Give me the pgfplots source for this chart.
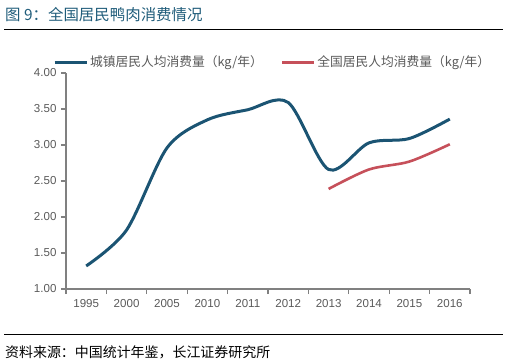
\documentclass[border=0pt]{standalone}
\usepackage{pgfplots}
\pgfplotsset{compat=1.18}
\usepackage{fontspec}
\setmainfont{Liberation Sans}
\newfontfamily\cjk{Noto Sans CJK SC}
\definecolor{lblue}{HTML}{1B5473}
\definecolor{lred}{HTML}{C6505A}
\definecolor{ttl}{HTML}{1F5C7A}
\definecolor{axgray}{HTML}{808080}
\definecolor{txtgray}{HTML}{595959}
\begin{document}
\begin{tikzpicture}
\useasboundingbox (0,0) rectangle (516bp,-361bp);
\node[anchor=west, text=ttl, font=\cjk\fontsize{15.5}{16}\selectfont, inner sep=0] at (5bp,-15bp) {图 9：全国居民鸭肉消费情况};
\draw[black, line width=0.9bp] (4bp,-29.7bp) -- (503bp,-29.7bp);
\draw[black, line width=0.9bp] (4bp,-334bp) -- (503bp,-334bp);
\node[anchor=west, text=black, font=\cjk\fontsize{14}{15}\selectfont, inner sep=0] at (5bp,-352bp) {资料来源：中国统计年鉴，长江证券研究所};
\begin{axis}[
  at={(66bp,-289bp)}, anchor=south west,
  scale only axis, width=404bp, height=216bp,
  xmin=-0.5, xmax=9.5, ymin=1, ymax=4,
  axis x line=bottom, axis y line=left,
  axis line style={axgray, line width=1.3bp, -},
  xtick={0,...,9},
  xticklabels={1995,2000,2005,2010,2011,2012,2013,2014,2015,2016},
  minor xtick={-0.5,0.5,...,9.5},
  major x tick style={draw=none},
  minor x tick style={axgray, line width=1.1bp},
  minor tick length=5bp,
  ytick={1,1.5,...,4},
  y tick style={axgray, line width=1.1bp},
  major tick length=5bp,
  tick align=outside,
  yticklabel style={xshift=-1bp, /pgf/number format/fixed, /pgf/number format/fixed zerofill, /pgf/number format/precision=2, /pgf/number format/assume math mode=true},
  ticklabel style={font=\fontsize{11.6}{12}\selectfont, text=txtgray},
  xticklabel style={yshift=-2bp},
  legend style={at={(-0.04,1.05)}, anchor=west, draw=none, fill=none,
    legend columns=2, font=\cjk\fontsize{12.8}{13}\selectfont, text=txtgray,
    /tikz/every even column/.append style={column sep=16bp}},
  legend image code/.code={\draw[#1] (0bp,0bp) -- (32bp,0bp);},
  clip=false,
]
\addplot[lblue, line width=3bp, smooth, tension=0.5] coordinates {
 (0,1.32) (1,1.82) (2,2.96) (3,3.35) (4,3.49) (5,3.59) (6,2.66) (7,3.03) (8,3.09) (9,3.36)};
\addlegendentry{城镇居民人均消费量（kg/年）}
\addplot[lred, line width=2.6bp, smooth, tension=0.5] coordinates {
 (6,2.39) (7,2.66) (8,2.77) (9,3.01)};
\addlegendentry{全国居民人均消费量（kg/年）}
\end{axis}
\end{tikzpicture}
\end{document}
